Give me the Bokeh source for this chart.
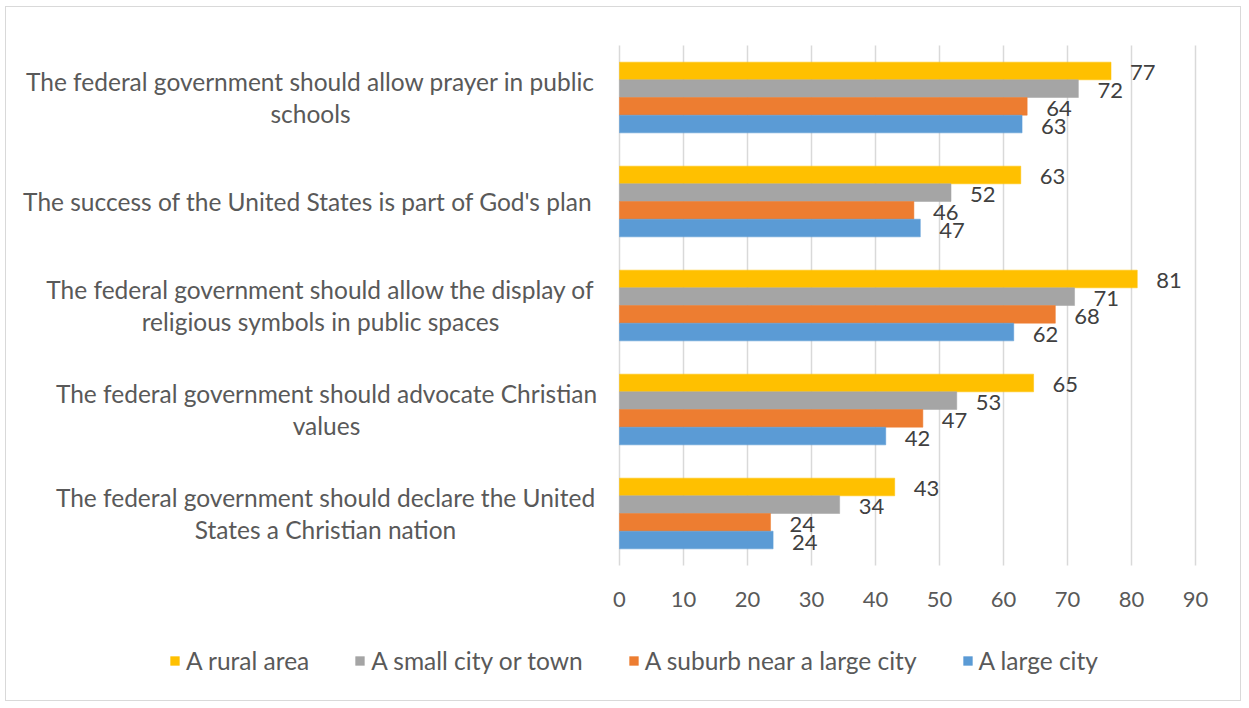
from bokeh.plotting import figure
from bokeh.models import (Range1d, FixedTicker, Label, Legend, LegendItem,
                          ColumnDataSource)
from bokeh.core.properties import value
from bokeh.embed import file_html
from bokeh.resources import INLINE

# ---------------- data ----------------
categories = [
    "The federal government should allow prayer in public\nschools",
    "The success of the United States is part of God's plan",
    "The federal government should allow the display of\nreligious symbols in public spaces",
    "The federal government should advocate Christian\nvalues",
    "The federal government should declare the United\nStates a Christian nation",
]
series_names = ["A rural area", "A small city or town",
                "A suburb near a large city", "A large city"]
rural = [76.8, 62.7, 80.9, 64.7, 43.0]
small_city = [71.7, 51.8, 71.1, 52.7, 34.4]
suburb = [63.7, 46.0, 68.1, 47.4, 23.6]
large_city = [62.9, 47.0, 61.6, 41.6, 24.0]
x_ticks = [0, 10, 20, 30, 40, 50, 60, 70, 80, 90]

colors = ["#FFC000", "#A5A5A5", "#ED7D31", "#5B9BD5"]
FONT = "Lato"
TXT = "#595959"

# ---------------- layout (canvas pixels) ----------------
W, H = 1236, 695
PY_TOP, PY_BOT = 38, 558    # canvas y of plot area top / bottom
PX0, PX90 = 613, 1189       # canvas x of value 0 and value 90
PPU = (PX90 - PX0) / 90.0
N = len(categories)
PPY = (PY_BOT - PY_TOP) / N
X_START = -PX0 / PPU
X_END = 90 + (W - PX90) / PPU
Y_START = -(H - PY_BOT) / PPY
Y_END = N + PY_TOP / PPY

p = figure(width=W, height=H, output_backend="svg", toolbar_location=None,
           x_range=Range1d(X_START, X_END), y_range=Range1d(Y_START, Y_END),
           min_border_left=0, min_border_right=0, min_border_top=0,
           min_border_bottom=0, outline_line_color=None,
           background_fill_color="white", border_fill_color="white",
           styles={"border": "1px solid #d9d9d9", "margin": "6px 0 0 5px"})

p.yaxis.visible = False
p.grid.visible = False

# vertical gridlines over the plot area only
p.segment(x0=x_ticks, y0=[0] * len(x_ticks), x1=x_ticks,
          y1=[N] * len(x_ticks), line_color="#d9d9d9", line_width=1.5)

ax = p.xaxis[0]
ax.fixed_location = 0
ax.ticker = FixedTicker(ticks=x_ticks)
ax.axis_line_color = None
ax.major_tick_line_color = None
ax.minor_tick_line_color = None
ax.major_tick_out = 0
ax.major_tick_in = 0
ax.minor_tick_out = 0
ax.major_label_text_font = FONT
ax.major_label_text_font_size = "22px"
ax.major_label_text_color = TXT
ax.major_label_standoff = 26

centers = [N - 0.5 - i for i in range(N)]
bar_h = 0.17
offsets = [1.5 * bar_h, 0.5 * bar_h, -0.5 * bar_h, -1.5 * bar_h]
all_series = [rural, small_city, suburb, large_city]

items = []
for k, (vals, name) in enumerate(zip(all_series, series_names)):
    src = ColumnDataSource(dict(
        y=[c + offsets[k] for c in centers],
        right=vals,
        lab=[str(int(round(v))) for v in vals],
    ))
    r = p.hbar(y="y", left=0, right="right", height=bar_h, source=src,
               fill_color=colors[k], line_color=colors[k], line_width=0.5)
    p.text(x="right", y="y", text="lab", source=src, x_offset=19, y_offset=2,
           text_align="left", text_baseline="middle",
           text_font=value(FONT), text_font_size="22px", text_color="#404040")
    items.append(LegendItem(label=name, renderers=[r]))


def px_to_x(px):
    return (px - PX0) / PPU


# category labels: block right edge at canvas x ~586, lines centred
label_pos = [304, 586, 314, 320, 319]
for i, (cat, c) in enumerate(zip(categories, centers)):
    single = "\n" not in cat
    p.add_layout(Label(x=px_to_x(label_pos[i]), y=c, text=cat,
                       text_align="right" if single else "center",
                       text_baseline="middle", text_font=FONT,
                       text_font_size="24.5px", text_color=TXT,
                       text_line_height=1.1))

legend = Legend(items=items, orientation="horizontal", location=(163, 27),
                label_text_font=FONT, label_text_font_size="24.5px",
                label_text_color=TXT, glyph_width=11, glyph_height=11,
                label_height=27, label_standoff=6, spacing=45, padding=0,
                margin=0, border_line_color=None, background_fill_alpha=0)
p.add_layout(legend)

open("out.html", "w").write(file_html(p, INLINE))
